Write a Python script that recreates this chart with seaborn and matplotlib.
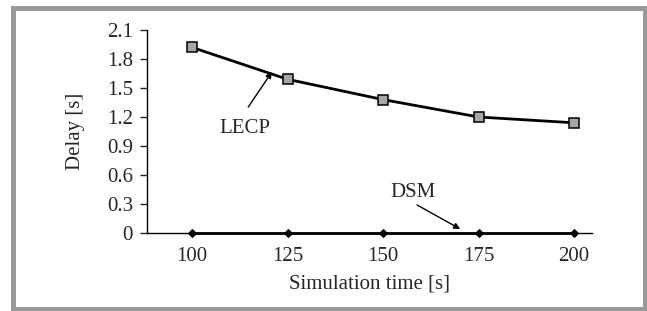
import matplotlib
matplotlib.use("Agg")
import matplotlib.pyplot as plt
from matplotlib.patches import Rectangle
import pandas as pd
import seaborn as sns

# data
sim_time = [100, 125, 150, 175, 200]
lecp_delay = [1.92, 1.59, 1.38, 1.20, 1.14]
dsm_delay = [0, 0, 0, 0, 0]
y_ticks = [0, 0.3, 0.6, 0.9, 1.2, 1.5, 1.8, 2.1]
y_tick_labels = ["0", "0.3", "0.6", "0.9", "1.2", "1.5", "1.8", "2.1"]

FS = 15

sns.set_style("white")
plt.rcParams["font.family"] = ["Liberation Serif", "DejaVu Serif"]
plt.rcParams["font.size"] = FS

df = pd.DataFrame({"time": sim_time, "LECP": lecp_delay, "DSM": dsm_delay})

fig = plt.figure(figsize=(6.47, 3.11), dpi=100)
ax = fig.add_axes([147 / 647, 1 - 233 / 311, 445 / 647, 203 / 311])

# gray frame around the whole chart
fig.patches.append(Rectangle((12.5 / 647, 1 - 308.5 / 311), 632 / 647, 301 / 311,
                             transform=fig.transFigure, fill=False,
                             edgecolor="#999999", linewidth=3.6))

sns.lineplot(data=df, x="time", y="DSM", ax=ax, color="black", linewidth=2,
             marker="D", markersize=4.5, markerfacecolor="black",
             markeredgecolor="black", clip_on=False, zorder=3)
sns.lineplot(data=df, x="time", y="LECP", ax=ax, color="black", linewidth=2,
             marker="s", markersize=6.5, markerfacecolor="#a6a6a6",
             markeredgecolor="black", markeredgewidth=1.1, clip_on=False, zorder=4)

ax.set_xlim(88.2, 204.7)
ax.set_ylim(0, 2.1)
ax.set_xticks(sim_time)
ax.set_yticks(y_ticks)
ax.set_yticklabels(y_tick_labels)
ax.tick_params(axis="x", length=0, pad=10, labelsize=FS)
ax.tick_params(axis="y", length=5, width=1, pad=5, direction="out", left=True,
               labelsize=FS)

for side in ["top", "right"]:
    ax.spines[side].set_visible(False)
for side in ["left", "bottom"]:
    ax.spines[side].set_color("black")
    ax.spines[side].set_linewidth(1)

ax.set_xlabel("Simulation time [s]", fontsize=FS, labelpad=6)
ax.set_ylabel("Delay [s]", fontsize=FS, labelpad=16)

ax.text(113.9, 1.086, "LECP", ha="center", va="center", fontsize=FS)
ax.annotate("", xy=(120.9, 1.666), xytext=(114.7, 1.303),
            arrowprops=dict(arrowstyle="-|>", color="black", lw=1,
                            mutation_scale=9, shrinkA=0, shrinkB=0))
ax.text(157.9, 0.424, "DSM", ha="center", va="center", fontsize=FS)
ax.annotate("", xy=(170.2, 0.041), xytext=(158.9, 0.29),
            arrowprops=dict(arrowstyle="-|>", color="black", lw=1,
                            mutation_scale=9, shrinkA=0, shrinkB=0))

fig.savefig("out.png", dpi=100)
